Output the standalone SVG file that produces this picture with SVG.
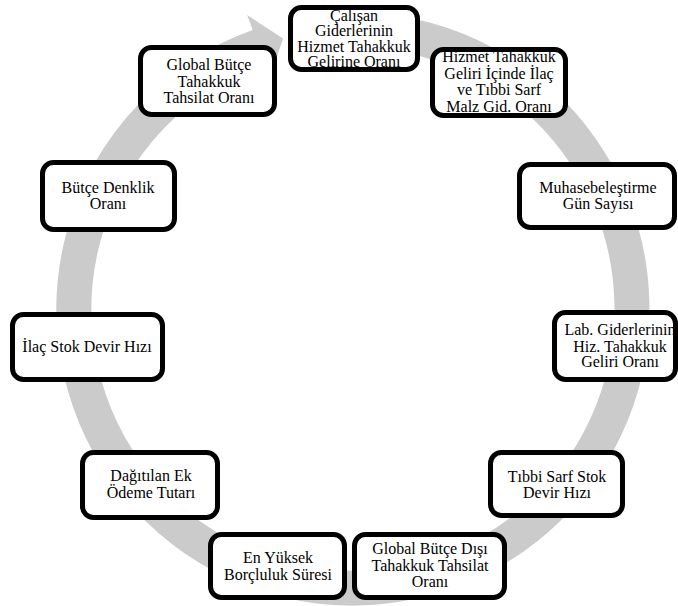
<svg xmlns="http://www.w3.org/2000/svg" width="678" height="606" viewBox="0 0 678 606">
<style>
.box{fill:#fff;stroke:#000;stroke-width:5}
.lbl{font-family:'Liberation Serif','Times New Roman','DejaVu Serif',serif;font-size:16px;text-anchor:middle;fill:#000}
.ring{fill:none;stroke:#cbcbcb;stroke-width:35}
.head{fill:#cbcbcb;stroke:none}
</style>
<rect width="678" height="606" fill="#fff"/>
<g id="connectors">
<path class="ring" d="M362.7,30.2 A279,279 0 1 1 259.9,46"/>
<polygon class="head" points="247.2,15 283,38.5 269.8,78"/>
</g>
<g font-family="Liberation Serif, Times New Roman, serif">
<g id="n1"><rect class="box" x="290.5" y="7.5" width="127" height="62" rx="11"/>
<text class="lbl" x="354" y="20.5">Çalışan</text><text class="lbl" x="354" y="36">Giderlerinin</text><text class="lbl" x="354" y="51.5">Hizmet Tahakkuk</text><text class="lbl" x="354" y="67">Gelirine Oranı</text></g>
<g id="n2"><rect class="box" x="432.5" y="49.5" width="133" height="66" rx="11"/>
<text class="lbl" x="499" y="62">Hizmet Tahakkuk</text><text class="lbl" x="499" y="78.5">Geliri İçinde İlaç</text><text class="lbl" x="499" y="95">ve Tıbbi Sarf</text><text class="lbl" x="499" y="111.5">Malz Gid. Oranı</text></g>
<g id="n3"><rect class="box" x="519.5" y="164.5" width="155" height="63" rx="11"/>
<text class="lbl" x="598" y="193">Muhasebeleştirme</text><text class="lbl" x="598" y="209">Gün Sayısı</text></g>
<g id="n4"><rect class="box" x="554.5" y="312.5" width="121" height="67" rx="11"/>
<text class="lbl" x="620" y="335">Lab. Giderlerinin</text><text class="lbl" x="620" y="351.5">Hiz. Tahakkuk</text><text class="lbl" x="620" y="367">Geliri Oranı</text></g>
<g id="n5"><rect class="box" x="490.5" y="452.5" width="132" height="63" rx="11"/>
<text class="lbl" x="557" y="482">Tıbbi Sarf Stok</text><text class="lbl" x="557" y="498">Devir Hızı</text></g>
<g id="n6"><rect class="box" x="354.5" y="534.5" width="150" height="63" rx="11"/>
<text class="lbl" x="430" y="554">Global Bütçe Dışı</text><text class="lbl" x="430" y="570.5">Tahakkuk Tahsilat</text><text class="lbl" x="430" y="587">Oranı</text></g>
<g id="n7"><rect class="box" x="210.5" y="534.5" width="134" height="63" rx="11"/>
<text class="lbl" x="278" y="563">En Yüksek</text><text class="lbl" x="278" y="580">Borçluluk Süresi</text></g>
<g id="n8"><rect class="box" x="82.5" y="452.5" width="135" height="65" rx="11"/>
<text class="lbl" x="151" y="481">Dağıtılan Ek</text><text class="lbl" x="151" y="497.5">Ödeme Tutarı</text></g>
<g id="n9"><rect class="box" x="12.5" y="314.5" width="150" height="65" rx="11"/>
<text class="lbl" x="87" y="352">İlaç Stok Devir Hızı</text></g>
<g id="n10"><rect class="box" x="42.5" y="162.5" width="132" height="67" rx="11"/>
<text class="lbl" x="108" y="193">Bütçe Denklik</text><text class="lbl" x="108" y="209">Oranı</text></g>
<g id="n11"><rect class="box" x="140.5" y="47.5" width="134" height="67" rx="11"/>
<text class="lbl" x="209" y="70">Global Bütçe</text><text class="lbl" x="209" y="86.5">Tahakkuk</text><text class="lbl" x="209" y="103">Tahsilat Oranı</text></g>
</g>
</svg>
